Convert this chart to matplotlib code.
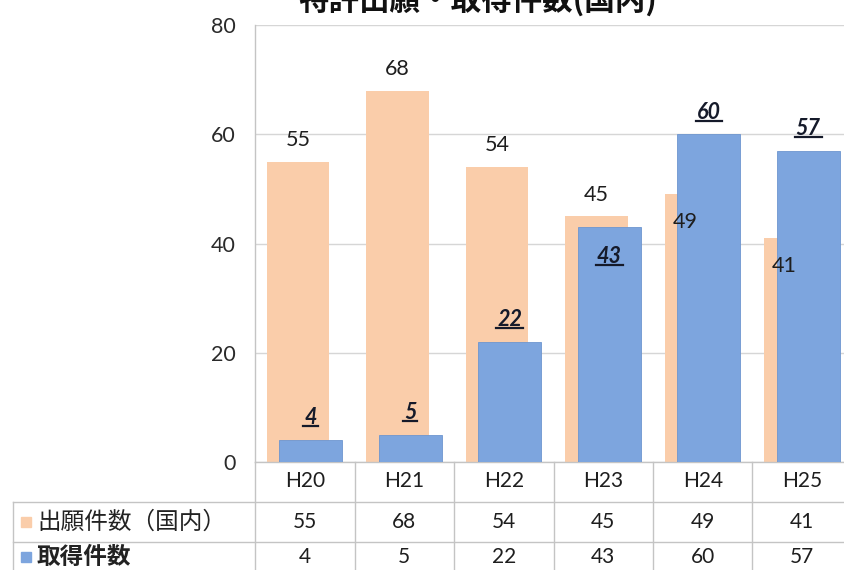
import matplotlib
matplotlib.use("Agg")
import matplotlib.pyplot as plt
from matplotlib.lines import Line2D
from matplotlib.patches import Rectangle
import numpy as np

# ---- data ----
categories = ["H20", "H21", "H22", "H23", "H24", "H25"]
applications = [55, 68, 54, 45, 49, 41]      # 出願件数（国内）
acquired = [4, 5, 22, 43, 60, 57]            # 取得件数
series_names = ["出願件数（国内）", "取得件数"]
yticks = [0, 20, 40, 60, 80]
title = "特許出願・取得件数(国内)"

# ---- style ----
W, H = 844, 570
DPI = 100
ORANGE = "#FACDAA"
BLUE = "#7DA5DE"
GRID = "#D6D6D6"
LINE = "#C4C4C4"
TXT = "#1E1E1E"
NUMFONT = ["Lato", "Noto Sans CJK JP", "DejaVu Sans"]
CJK = ["Noto Sans CJK JP", "DejaVu Sans"]
plt.rcParams["font.family"] = NUMFONT

fig = plt.figure(figsize=(W / DPI, H / DPI), dpi=DPI)
fig.patch.set_facecolor("white")

px = lambda v: v / W
py = lambda v: v / H

# main plot area (pixel geometry of the reference)
left, right, top, zero = 255, 852, 25, 462
ax = fig.add_axes([px(left), py(H - zero), px(right - left), py(zero - top)])
ax.set_xlim(-0.5, len(categories) - 0.5)
ax.set_ylim(0, 80)

x = np.arange(len(categories))
bw = 0.63
ax.bar(x - 0.068, applications, width=bw, color=ORANGE, zorder=2, linewidth=0)
ax.bar(x + 0.06, acquired, width=bw, color=BLUE, zorder=3, linewidth=0.6,
       edgecolor="#6E96CF")

ax.set_yticks(yticks)
ax.set_xticks([])
ax.yaxis.grid(True, color=GRID, linewidth=1.0, zorder=0)
ax.set_axisbelow(True)
ax.tick_params(axis="y", length=0, pad=14, labelsize=15.5, labelcolor="#2a2a2a")
for s in ["top", "right"]:
    ax.spines[s].set_visible(False)
ax.spines["left"].set_color(LINE)
ax.spines["bottom"].set_color(LINE)
ax.spines["left"].set_linewidth(1.0)
ax.spines["bottom"].set_linewidth(1.0)

LFS = 15.5
# data labels
orange_place = ["above", "above", "above", "above", "inside", "inside"]
blue_place = ["above", "above", "above", "inside", "above", "above"]
for i, v in enumerate(applications):
    if orange_place[i] == "above":
        ax.annotate(str(v), (x[i] - 0.068, v), xytext=(0, 15.5), textcoords="offset points",
                    ha="center", va="center", fontsize=LFS, color=TXT, zorder=5)
    else:
        ax.annotate(str(v), (x[i] - 0.068, v), xytext=(-8, -20), textcoords="offset points",
                    ha="center", va="center", fontsize=LFS, color=TXT, zorder=5)

blue_texts = []
for i, v in enumerate(acquired):
    dy = 16 if blue_place[i] == "above" else -21
    t = ax.annotate(str(v), (x[i] + 0.06, v), xytext=(0, dy), textcoords="offset points",
                    ha="center", va="center", fontsize=LFS, color="#151a2a",
                    fontweight="bold", fontstyle="italic", zorder=5)
    blue_texts.append(t)

# title (partially cut at the top like the reference)
fig.text(px(478), 1 - py(10), title, ha="center", va="baseline", fontsize=22,
         fontweight="bold", family=CJK, color="#111111")

# ---- data table below the plot ----
row_h = 40
tax = fig.add_axes([px(left), py(H - (zero + 3 * row_h)), px(right - left), py(3 * row_h)])
tax.set_xlim(-0.5, len(categories) - 0.5)
tax.set_ylim(3, 0)
tax.axis("off")
unit = (right - left) / len(categories)
xl = -0.5 - (left - 13) / unit   # left border of row-header column

for k in range(len(categories) + 1):
    tax.add_line(Line2D([k - 0.5, k - 0.5], [0, 3], color=LINE, lw=1.0, clip_on=False))
for r in [1, 2]:
    tax.add_line(Line2D([xl, len(categories) - 0.5], [r, r], color=LINE, lw=1.0, clip_on=False))
tax.add_line(Line2D([xl, xl], [1, 3], color=LINE, lw=1.0, clip_on=False))

row_y = [0.48, 1.5, 2.37]
TFS = 15
for i, c in enumerate(categories):
    tax.text(i, row_y[0], c, ha="center", va="center", fontsize=TFS, color=TXT)
    tax.text(i, row_y[1], str(applications[i]), ha="center", va="center", fontsize=TFS, color=TXT)
    tax.text(i, row_y[2], str(acquired[i]), ha="center", va="center", fontsize=TFS, color=TXT)

sq = 10 / unit
xs = -0.5 - (left - 21) / unit
for r, col, name, wgt in [(1, ORANGE, series_names[0], "normal"), (2, BLUE, series_names[1], "bold")]:
    tax.add_patch(Rectangle((xs, row_y[r] - 0.13), sq, 0.26, color=col, clip_on=False))
    tax.text(-0.5 - (left - 37) / unit, row_y[r], name, ha="left", va="center",
             fontsize=17, family=CJK, fontweight=wgt,
             color="#222222", clip_on=False)

# underline the acquired-count labels
fig.canvas.draw()
inv = fig.transFigure.inverted()
for t in blue_texts:
    bb = t.get_window_extent().transformed(inv)
    yline = bb.y0 + py(2)
    fig.add_artist(Line2D([bb.x0 - px(1), bb.x1 + px(1)], [yline, yline],
                          transform=fig.transFigure, color="#151a2a", lw=1.6))

fig.savefig("out.png", dpi=DPI, facecolor="white")
